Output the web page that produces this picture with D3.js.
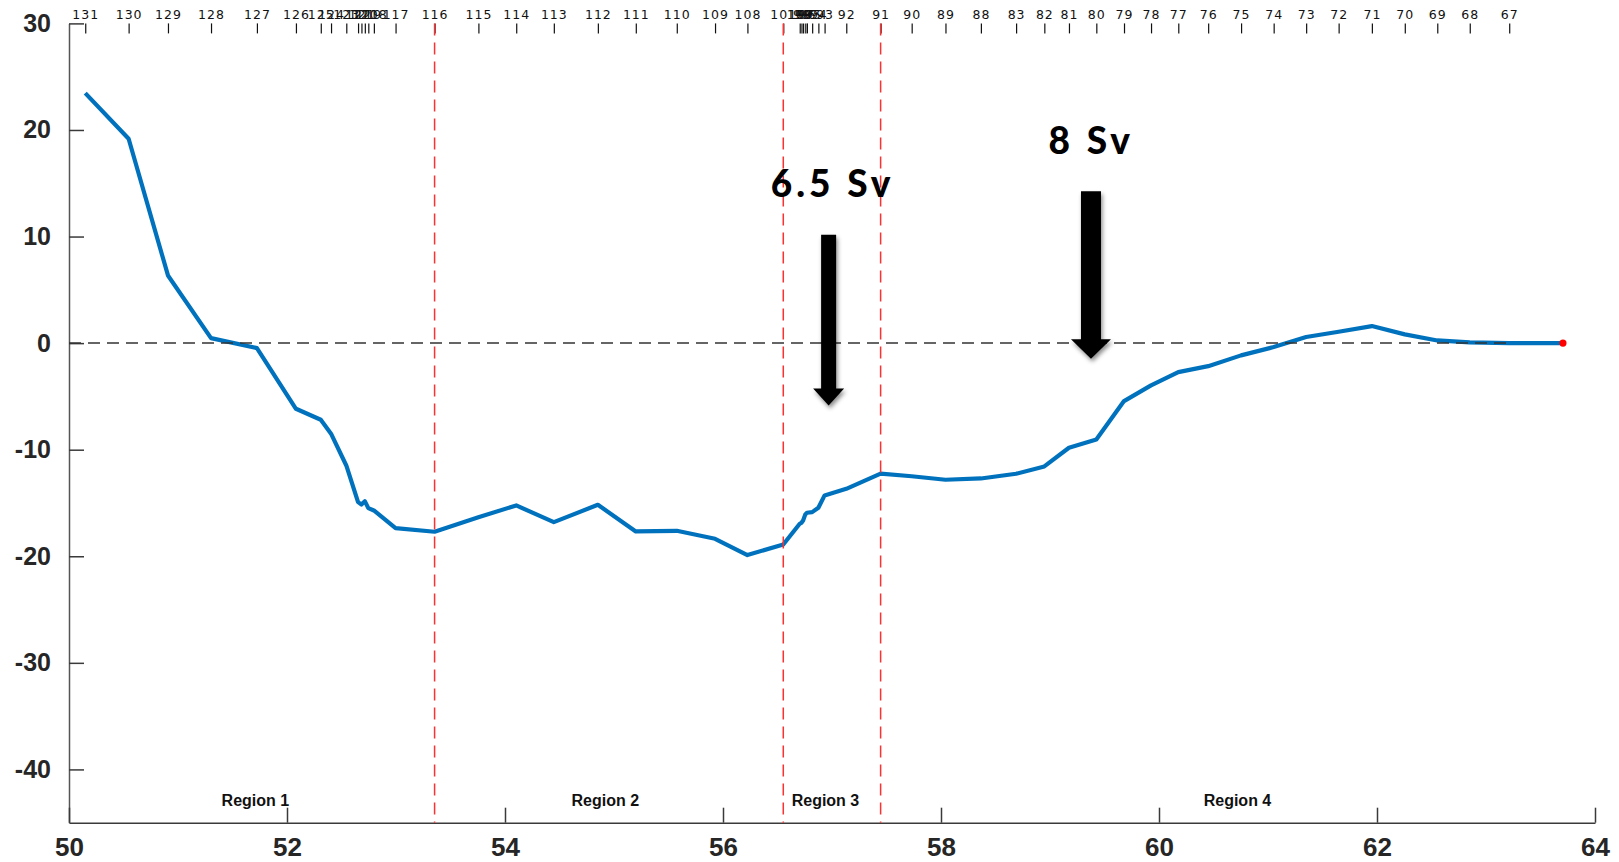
<!DOCTYPE html>
<html>
<head>
<meta charset="utf-8">
<script src="https://cdn.jsdelivr.net/npm/d3@7"></script>
<style>
  html, body { margin: 0; padding: 0; background: #fff; }
  svg { display: block; }
</style>
</head>
<body>
<svg id="chart" width="1619" height="862"></svg>
<script>
// Station numbers along the section and their latitudes (top axis)
const stations = [131,130,129,128,127,126,125,124,123,122,121,120,119,118,117,116,115,114,113,112,111,110,109,108,101,100,99,98,97,96,95,94,93,92,91,90,89,88,83,82,81,80,79,78,77,76,75,74,73,72,71,70,69,68,67];
const stationLat = [50.149,50.547,50.908,51.303,51.724,52.082,52.310,52.404,52.544,52.652,52.683,52.714,52.746,52.797,52.996,53.354,53.756,54.103,54.448,54.852,55.200,55.576,55.927,56.224,56.553,56.704,56.720,56.735,56.755,56.770,56.818,56.875,56.932,57.131,57.446,57.731,58.041,58.366,58.689,58.948,59.174,59.425,59.679,59.927,60.177,60.451,60.753,61.052,61.350,61.648,61.953,62.255,62.553,62.851,63.213];
// Cumulative transport at each station
const transport = [23.46,19.18,6.35,0.47,-0.47,-6.16,-7.19,-8.50,-11.48,-14.92,-15.14,-14.83,-15.48,-15.70,-17.36,-17.70,-16.35,-15.23,-16.80,-15.17,-17.67,-17.61,-18.36,-19.89,-18.89,-16.95,-16.86,-16.64,-16.07,-15.92,-15.86,-15.45,-14.29,-13.67,-12.24,-12.49,-12.82,-12.70,-12.26,-11.57,-9.82,-9.04,-5.44,-3.97,-2.72,-2.16,-1.15,-0.37,0.57,1.07,1.60,0.82,0.25,0.07,0.00];
// Final (closing) point of the section
const endLat = 63.706;
const endValue = 0;

// Axis ticks
const xTicks = [50,52,54,56,58,60,62,64];
const yTicks = [-40,-30,-20,-10,0,10,20,30];

// Region boundaries (stations 116, 101, 91) and labels
const boundaryLat = [53.354, 56.553, 57.446];
const regionNames = ["Region 1","Region 2","Region 3","Region 4"];
const regionLat = [51.71, 54.92, 56.94, 60.72];

// Transport annotations
const arrowLabels = ["6.5 Sv", "8 Sv"];
const arrowLat = [56.969, 59.376];
const arrowTop = [10.17, 14.26];
const arrowTip = [-5.85, -1.46];
const labelLat = [56.988, 59.36];
const labelValue = [13.71, 17.77];

const svg = d3.select("#chart");
const x = d3.scaleLinear().domain([50, 64]).range([69, 1595]);
const y = d3.scaleLinear().domain([-45, 30]).range([822.7, 23.4]);

const axisColor = "#3a3a3a";
const labelFont = "'Liberation Sans', Arial, Helvetica, sans-serif";

// Shadow for arrows
const defs = svg.append("defs");
const f = defs.append("filter").attr("id", "shadow").attr("x", "-50%").attr("y", "-20%").attr("width", "200%").attr("height", "140%");
f.append("feDropShadow").attr("dx", 1.5).attr("dy", 3).attr("stdDeviation", 2.2).attr("flood-color", "#000").attr("flood-opacity", 0.45);

// Left axis
const gy = svg.append("g").attr("transform", `translate(${x(50)},0)`)
  .call(d3.axisLeft(y).tickValues(yTicks).tickSize(-15).tickSizeOuter(0).tickPadding(18).tickFormat(d => String(d)));
gy.select(".domain").attr("stroke", "#555").attr("stroke-width", 1.5);
gy.selectAll(".tick line").attr("stroke", axisColor).attr("stroke-width", 1.5);
gy.selectAll(".tick text").attr("font-family", labelFont).attr("font-weight", "bold").attr("font-size", 25).attr("fill", "#262626");

// Bottom axis
const gx = svg.append("g").attr("transform", `translate(0,${y(-45)})`)
  .call(d3.axisBottom(x).tickValues(xTicks).tickSize(-15).tickSizeOuter(0).tickPadding(15).tickFormat(d => String(d)));
gx.select(".domain").attr("stroke", axisColor).attr("stroke-width", 1.5);
gx.selectAll(".tick line").attr("stroke", axisColor).attr("stroke-width", 1.5);
gx.selectAll(".tick text").attr("font-family", labelFont).attr("font-weight", "bold").attr("font-size", 26).attr("fill", "#262626");

// Top axis: station numbers
const gt = svg.append("g").attr("transform", `translate(0,${y(30)})`)
  .call(d3.axisTop(x).tickValues(stationLat).tickSize(-10).tickSizeOuter(0).tickPadding(4)
    .tickFormat((d, i) => String(stations[i])));
gt.select(".domain").remove();
gt.selectAll(".tick line").attr("stroke", "#111").attr("stroke-width", 1.2);
gt.selectAll(".tick text").attr("font-family", "'DejaVu Sans', sans-serif").attr("font-size", 12.5)
  .attr("letter-spacing", "1px").attr("fill", "#111");

// Region labels
svg.append("g").selectAll("text").data(regionNames).join("text")
  .attr("x", (d, i) => x(regionLat[i]))
  .attr("y", y(-45) - 17)
  .attr("text-anchor", "middle")
  .attr("font-family", labelFont).attr("font-weight", "bold").attr("font-size", 16).attr("fill", "#111")
  .text(d => d);

// Transport curve
const pts = stationLat.map((lat, i) => [lat, transport[i]]).concat([[endLat, endValue]]);
svg.append("path").datum(pts)
  .attr("fill", "none").attr("stroke", "#0072BD").attr("stroke-width", 4.2)
  .attr("stroke-linejoin", "round").attr("stroke-linecap", "butt")
  .attr("d", d3.line().x(d => x(d[0])).y(d => y(d[1])));

// Zero reference line
svg.append("line")
  .attr("x1", x(50)).attr("x2", x(stationLat[stationLat.length - 1]))
  .attr("y1", y(0)).attr("y2", y(0))
  .attr("stroke", "#333").attr("stroke-width", 1.5).attr("stroke-dasharray", "12,7");

// Region boundaries
svg.append("g").selectAll("line").data(boundaryLat).join("line")
  .attr("x1", d => x(d)).attr("x2", d => x(d))
  .attr("y1", y(30)).attr("y2", y(-45))
  .attr("stroke", "#ff3030").attr("stroke-width", 1.5).attr("stroke-dasharray", "12,7");

// End marker
svg.append("circle").attr("cx", x(endLat)).attr("cy", y(endValue)).attr("r", 3.6).attr("fill", "#ff0000");

// Arrows
const shaftW = [15, 20], headW = [31, 40], headH = [17, 19.5];
arrowLabels.forEach((lab, i) => {
  const cx = x(arrowLat[i]), top = y(arrowTop[i]), tip = y(arrowTip[i]);
  const hb = tip - headH[i];
  const sw = shaftW[i] / 2, hw = headW[i] / 2;
  svg.append("path")
    .attr("d", `M${cx - sw},${top} L${cx + sw},${top} L${cx + sw},${hb} L${cx + hw},${hb} L${cx},${tip} L${cx - hw},${hb} L${cx - sw},${hb} Z`)
    .attr("fill", "#000").attr("filter", "url(#shadow)");
  svg.append("text")
    .attr("x", x(labelLat[i]) + 2).attr("y", y(labelValue[i]))
    .attr("text-anchor", "middle")
    .attr("font-family", "Lato, 'Noto Sans', sans-serif").attr("font-weight", 900)
    .attr("font-size", 37).attr("letter-spacing", "4px").attr("fill", "#000")
    .text(lab);
});
</script>
</body>
</html>
